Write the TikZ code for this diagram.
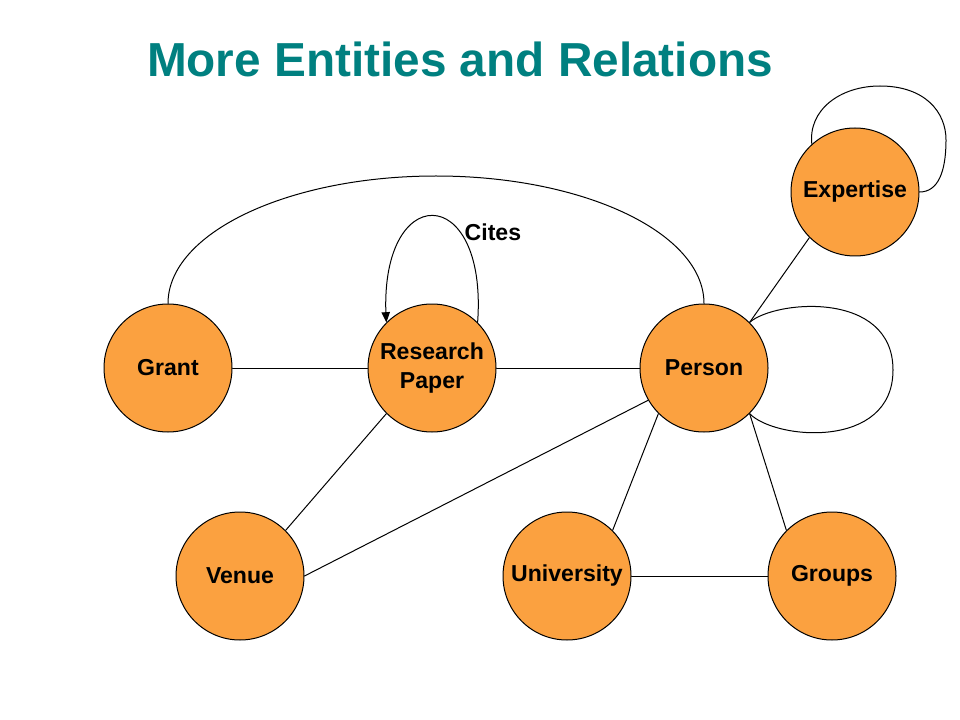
\documentclass[tikz,border=0pt]{standalone}
\usepackage{fontspec}
\setmainfont{Liberation Sans}
\usepackage{tikz}
\usetikzlibrary{calc}
\usetikzlibrary{arrows}
\definecolor{ffaaqq}{RGB}{251,161,64}
\definecolor{qqttqq}{RGB}{0,128,128}
\tikzstyle{every node}=[font=\fontsize{17.3}{21.75}\selectfont\bfseries]
\tikzset{entity/.style={circle,draw=black,fill=ffaaqq,line width=0.75pt,minimum size=96pt,inner sep=0pt,align=center},
  rel/.style={line width=0.75pt,color=black}}

\begin{document}
\begin{tikzpicture}[line cap=round,line join=round,>=triangle 45,x=0.75pt,y=-0.75pt]
            \useasboundingbox[fill=white] (0,0) rectangle (960,720);
            \node[anchor=base,text=qqttqq,font=\fontsize{35.8}{40}\selectfont\bfseries] (title) at (460,77) {More Entities and Relations};
            \node[entity] (grant) at (168,368) {Grant};
            \node[entity] (paper) at (432,368) {Research\\Paper};
            \node[entity] (person) at (704,368) {Person};
            \node[entity] (expertise) at (855,192) {Expertise};
            \node[entity] (venue) at (240,576) {Venue};
            \node[entity] (university) at (567,576) {University};
            \node[entity] (groups) at (832,576) {Groups};
            \node[anchor=west] (cites) at (460,232) {Cites};
            \draw [rel] (grant.east) -- (paper.west);
            \draw [rel] (paper.east) -- (person.west);
            \draw [rel] (paper.225) -- (venue.45);
            \draw [rel] (person.210) -- (venue.east);
            \draw [rel] (person.45) -- (expertise.225);
            \draw [rel] (person.225) -- (university.45);
            \draw [rel] (person.-45) -- (groups.135);
            \draw [rel] (university.east) -- (groups.west);
            \draw [rel] (grant.north) .. controls (168,233) and (288,176) .. (436,176) .. controls (584,176) and (704,233) .. (person.north);
            \draw [rel,->] (paper.45) .. controls (488,180) and (377,180) .. (paper.135);
            \draw [rel] (person.45) .. controls (775,300) and (893,290) .. (893,370) .. controls (893,450) and (775,440) .. (person.-45);
            \draw [rel] (expertise.132) .. controls (808,110) and (840,86) .. (880,86) .. controls (925,86) and (946,112) .. (946,140) .. controls (946,172) and (938,192) .. (expertise.east);
            \end{tikzpicture}
\end{document}
